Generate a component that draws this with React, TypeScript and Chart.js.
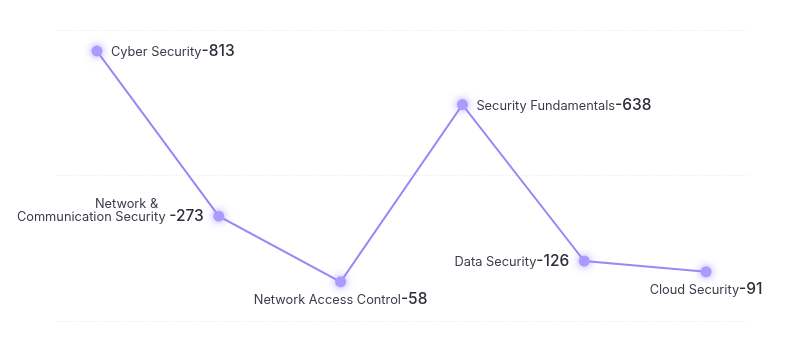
import React, { useEffect, useRef } from "react";
import { Chart, registerables } from "chart.js";

Chart.register(...registerables);

const categories: string[][] = [
  ["Cyber Security"],
  ["Network &", "Communication Security "],
  ["Network Access Control"],
  ["Security Fundamentals"],
  ["Data Security"],
  ["Cloud Security"],
];
const values: number[] = [813, 273, 58, 638, 126, 91];
const labelPlacement: string[] = ["right", "left", "below", "right", "left", "below"];

const FONT = "Inter";

const labelPlugin = {
  id: "pointLabels",
  afterDatasetsDraw(chart: any) {
    const ctx = chart.ctx;
    const meta = chart.getDatasetMeta(0);
    meta.data.forEach((pt: any, i: number) => {
      const { x, y } = pt.getProps(["x", "y"], true);
      // glowing point
      ctx.save();
      ctx.shadowColor = "rgba(150,130,255,0.85)";
      ctx.shadowBlur = 9;
      ctx.fillStyle = "#a99cff";
      ctx.beginPath();
      ctx.arc(x, y, 5.5, 0, Math.PI * 2);
      ctx.fill();
      ctx.restore();

      const lines = categories[i];
      const valueText = "-" + values[i];
      const nameFont = `400 12.8px ${FONT}`;
      const valFont = `500 15.5px ${FONT}`;
      ctx.save();
      ctx.textBaseline = "alphabetic";
      ctx.font = nameFont;
      const last = lines[lines.length - 1];
      const nameW = ctx.measureText(last).width;
      ctx.font = valFont;
      const valW = ctx.measureText(valueText).width;
      const total = nameW + valW;
      let startX = 0;
      let baseY = 0;
      const place = labelPlacement[i];
      if (place === "right") {
        startX = x + 14;
        baseY = y + 5;
      } else if (place === "left") {
        startX = x - 15 - total;
        baseY = y + 5;
      } else {
        startX = x - total / 2;
        baseY = y + 22;
      }
      ctx.fillStyle = "#3b3b4a";
      ctx.font = nameFont;
      ctx.textAlign = "left";
      ctx.fillText(last, startX, baseY);
      ctx.fillStyle = "#2e2e3a";
      ctx.font = valFont;
      ctx.fillText(valueText, startX + nameW, baseY);
      if (lines.length > 1) {
        ctx.font = nameFont;
        ctx.fillStyle = "#3b3b4a";
        ctx.textAlign = "right";
        ctx.fillText(lines[0], startX + nameW - 11, baseY - 13);
      }
      ctx.restore();
    });
  },
};

export default function App() {
  const ref = useRef<HTMLCanvasElement | null>(null);
  useEffect(() => {
    document.body.style.margin = "0";
    const chart = new Chart(ref.current as HTMLCanvasElement, {
      type: "line",
      data: {
        datasets: [
          {
            data: values.map((v, i) => ({ x: i, y: v })),
            borderColor: "#9b88f6",
            borderWidth: 2,
            pointRadius: 0,
            tension: 0,
            fill: false,
          },
        ],
      },
      options: {
        animation: false,
        responsive: false,
        layout: { padding: { top: 30, bottom: 30, left: 56, right: 54 } },
        plugins: { legend: { display: false }, tooltip: { enabled: false } },
        scales: {
          x: {
            type: "linear",
            min: -0.336,
            max: 5.336,
            display: false,
          },
          y: {
            min: -70,
            max: 882,
            ticks: { display: false, stepSize: 476 },
            grid: { color: "#e4e4e8", lineWidth: 1, drawTicks: false },
            border: { display: false, dash: [1, 2] },
          },
        },
      },
      plugins: [labelPlugin],
    });
    return () => chart.destroy();
  }, []);
  return (
    <div style={{ position: "absolute", left: 0, top: 0, width: 801, height: 351 }}>
      <canvas ref={ref} width={801} height={351} />
    </div>
  );
}
